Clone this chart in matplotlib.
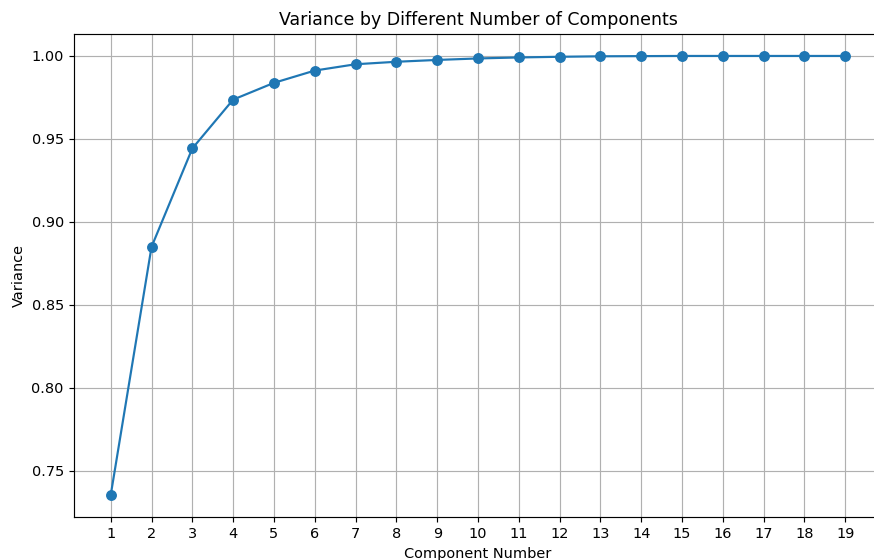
import matplotlib
matplotlib.use("Agg")
import matplotlib.pyplot as plt

components = list(range(1, 20))
variance = [0.7355, 0.885, 0.9443, 0.9737, 0.9838, 0.9912, 0.9950, 0.9965,
            0.9976, 0.9985, 0.9991, 0.9995, 0.9998, 0.9999, 1.0, 1.0, 1.0, 1.0, 1.0]

DPI = 104.5
fig = plt.figure(figsize=(874 / DPI, 560 / DPI), dpi=DPI)
ax = fig.add_axes([74 / 874, 43 / 560, 808 / 874, 483 / 560])
ax.plot(components, variance, marker="o", markersize=6.5)
ax.set_xticks(components)
ax.set_title("Variance by Different Number of Components")
ax.set_xlabel("Component Number")
ax.set_ylabel("Variance")
ax.grid(True)
# the reference is cropped just inside the right spine
ax.spines["right"].set_visible(False)
fig.savefig("out.png", dpi=DPI)
